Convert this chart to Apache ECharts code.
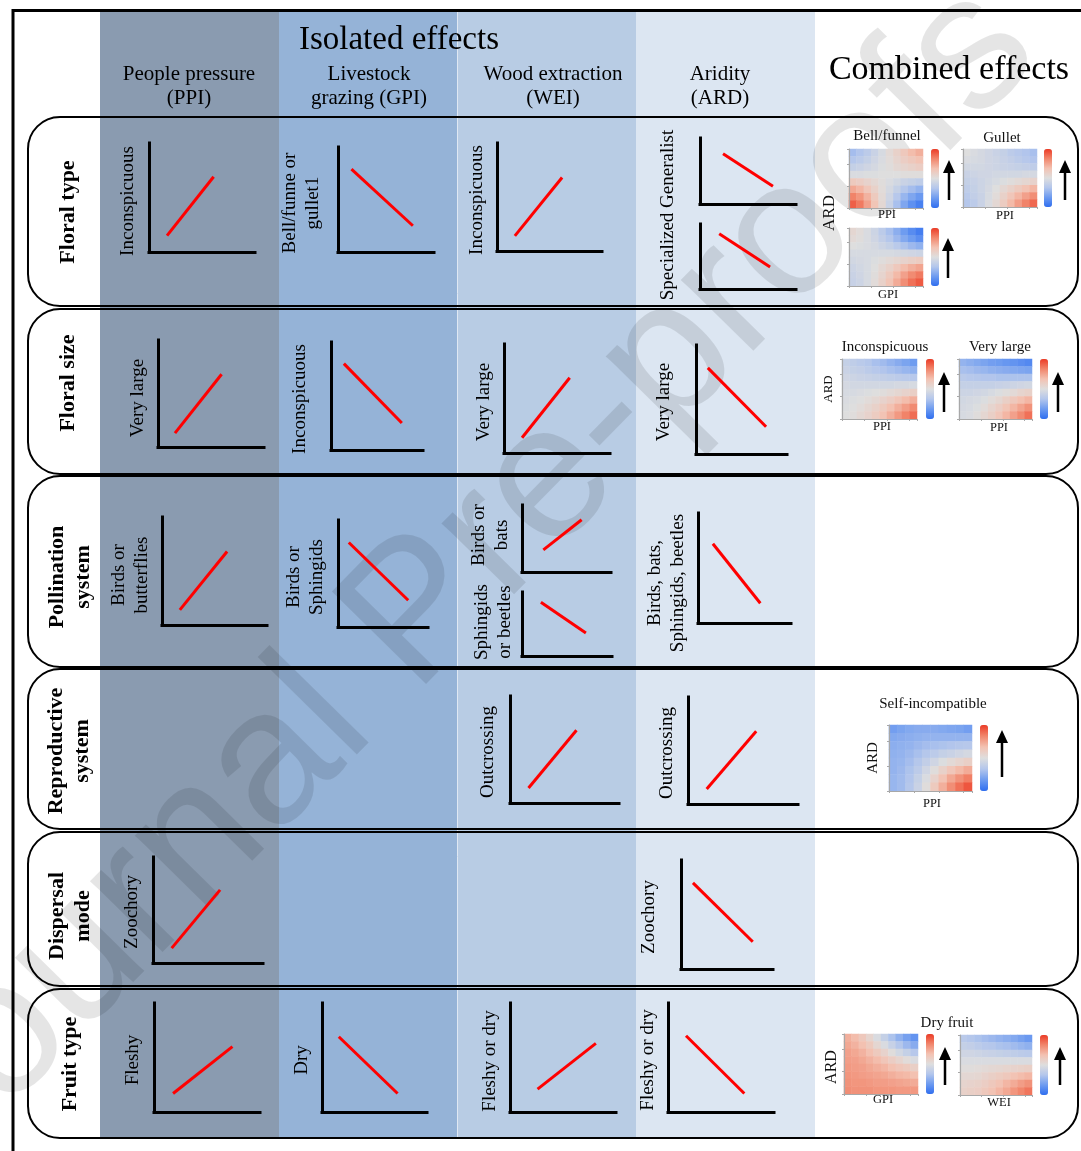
<!DOCTYPE html>
<html>
<head>
<meta charset="utf-8">
<script src="https://cdn.jsdelivr.net/npm/echarts@6/dist/echarts.min.js"></script>
<style>
  html, body { margin: 0; padding: 0; background: #ffffff; }
  #chart { width: 1081px; height: 1151px; }
</style>
</head>
<body>
<div id="chart"></div>
<script>
// ---- Traits (rows) and disturbance drivers (columns) ----
const traitRows = ['Floral type', 'Floral size', 'Pollination\nsystem', 'Reproductive\nsystem', 'Dispersal\nmode', 'Fruit type'];
const driverCols = ['People pressure\n(PPI)', 'Livestock\ngrazing (GPI)', 'Wood extraction\n(WEI)', 'Aridity\n(ARD)'];
const panelHeadings = ['Isolated effects', 'Combined effects'];

// ---- Isolated effects: trait-state label and fitted trend (start / end on a 0-10 scale) ----
const trendLabels = [
  'Inconspicuous', 'Bell/funne or\ngullet1', 'Inconspicuous', 'Specialized Generalist', '',
  'Very large', 'Inconspicuous', 'Very large', 'Very large',
  'Birds or\nbutterflies', 'Birds or\nSphingids', 'Birds or\nbats', 'Sphingids\nor beetles', 'Birds, bats,\nSphingids, beetles',
  'Outcrossing', 'Outcrossing',
  'Zoochory', 'Zoochory',
  'Fleshy', 'Dry', 'Fleshy or dry', 'Fleshy or dry'
];
const trendStart = [
  [1.7, 1.5], [1.4, 7.9], [1.7, 1.4], [2.4, 7.6], [2.0, 8.5],
  [1.6, 1.3], [1.4, 8.0], [1.7, 1.4], [1.3, 7.9],
  [1.7, 1.4], [1.2, 7.9], [2.4, 3.3], [2.1, 8.4], [1.6, 7.2],
  [1.7, 1.4], [1.7, 1.4],
  [1.7, 1.4], [1.3, 7.9],
  [1.8, 1.7], [1.6, 6.9], [2.6, 2.1], [1.7, 7.0]
];
const trendEnd = [
  [6.1, 6.9], [7.8, 2.5], [6.2, 6.8], [7.6, 2.7], [7.3, 3.4],
  [6.0, 6.8], [7.7, 2.5], [6.2, 6.9], [7.7, 2.5],
  [6.2, 6.8], [7.8, 2.5], [6.7, 7.8], [7.1, 3.6], [6.7, 1.8],
  [6.1, 6.8], [6.2, 6.8],
  [6.1, 6.9], [7.8, 2.5],
  [7.4, 6.0], [7.2, 1.7], [8.1, 6.3], [7.2, 1.7]
];

// ---- Combined effects: response surfaces (rows: high ARD at top, columns: low to high driver) ----
const surfaceTitles = ['Bell/funnel', 'Gullet', '', 'Inconspicuous', 'Very large', 'Self-incompatible', 'Dry fruit', ''];
const surfaceXNames = ['PPI', 'PPI', 'GPI', 'PPI', 'PPI', 'PPI', 'GPI', 'WEI'];
const surfaceBellFunnel = [
  [0.30, 0.33, 0.37, 0.42, 0.47, 0.53, 0.58, 0.63, 0.68, 0.72],
  [0.34, 0.37, 0.40, 0.44, 0.48, 0.52, 0.56, 0.60, 0.63, 0.66],
  [0.40, 0.42, 0.44, 0.46, 0.49, 0.51, 0.54, 0.56, 0.58, 0.60],
  [0.48, 0.48, 0.49, 0.49, 0.50, 0.50, 0.50, 0.51, 0.51, 0.51],
  [0.62, 0.60, 0.57, 0.54, 0.51, 0.48, 0.45, 0.42, 0.40, 0.38],
  [0.74, 0.70, 0.64, 0.58, 0.52, 0.46, 0.40, 0.34, 0.30, 0.26],
  [0.84, 0.79, 0.71, 0.62, 0.53, 0.44, 0.35, 0.27, 0.21, 0.16],
  [0.92, 0.86, 0.76, 0.65, 0.54, 0.42, 0.31, 0.21, 0.13, 0.07]
];
const surfaceGullet = [
  [0.50, 0.48, 0.46, 0.44, 0.42, 0.40, 0.37, 0.35, 0.33, 0.31],
  [0.48, 0.47, 0.46, 0.44, 0.43, 0.41, 0.39, 0.37, 0.35, 0.33],
  [0.45, 0.45, 0.45, 0.44, 0.43, 0.42, 0.41, 0.40, 0.39, 0.38],
  [0.42, 0.43, 0.44, 0.44, 0.45, 0.45, 0.45, 0.45, 0.46, 0.46],
  [0.40, 0.41, 0.43, 0.45, 0.47, 0.49, 0.51, 0.53, 0.55, 0.57],
  [0.38, 0.40, 0.43, 0.46, 0.50, 0.54, 0.58, 0.62, 0.66, 0.70],
  [0.36, 0.39, 0.42, 0.47, 0.52, 0.58, 0.64, 0.70, 0.76, 0.81],
  [0.34, 0.37, 0.42, 0.48, 0.54, 0.61, 0.69, 0.77, 0.84, 0.90]
];
const surfaceFloralGpi = [
  [0.55, 0.52, 0.48, 0.43, 0.37, 0.31, 0.24, 0.17, 0.11, 0.06],
  [0.53, 0.51, 0.48, 0.44, 0.39, 0.34, 0.28, 0.22, 0.17, 0.12],
  [0.50, 0.49, 0.48, 0.46, 0.43, 0.40, 0.36, 0.32, 0.28, 0.25],
  [0.47, 0.47, 0.47, 0.47, 0.47, 0.47, 0.46, 0.45, 0.44, 0.43],
  [0.45, 0.46, 0.47, 0.49, 0.51, 0.53, 0.55, 0.57, 0.59, 0.61],
  [0.43, 0.45, 0.47, 0.50, 0.54, 0.58, 0.63, 0.68, 0.72, 0.75],
  [0.42, 0.44, 0.47, 0.51, 0.56, 0.62, 0.69, 0.76, 0.82, 0.86],
  [0.41, 0.43, 0.47, 0.52, 0.58, 0.65, 0.73, 0.81, 0.88, 0.93]
];
const surfaceInconspicuous = [
  [0.40, 0.38, 0.36, 0.34, 0.31, 0.29, 0.26, 0.23, 0.20, 0.17],
  [0.42, 0.40, 0.39, 0.37, 0.35, 0.33, 0.31, 0.29, 0.27, 0.25],
  [0.44, 0.43, 0.42, 0.41, 0.40, 0.39, 0.38, 0.37, 0.36, 0.35],
  [0.46, 0.45, 0.45, 0.45, 0.45, 0.45, 0.45, 0.46, 0.46, 0.47],
  [0.47, 0.47, 0.48, 0.49, 0.50, 0.51, 0.53, 0.55, 0.57, 0.59],
  [0.48, 0.49, 0.50, 0.52, 0.54, 0.57, 0.60, 0.64, 0.68, 0.72],
  [0.49, 0.50, 0.52, 0.55, 0.58, 0.62, 0.67, 0.72, 0.77, 0.82],
  [0.50, 0.51, 0.54, 0.57, 0.61, 0.66, 0.72, 0.78, 0.84, 0.89]
];
const surfaceVeryLarge = [
  [0.26, 0.24, 0.22, 0.20, 0.18, 0.17, 0.15, 0.14, 0.12, 0.10],
  [0.31, 0.30, 0.28, 0.27, 0.25, 0.24, 0.23, 0.22, 0.21, 0.20],
  [0.36, 0.35, 0.34, 0.33, 0.33, 0.32, 0.32, 0.32, 0.32, 0.32],
  [0.40, 0.40, 0.40, 0.40, 0.40, 0.41, 0.42, 0.43, 0.44, 0.45],
  [0.43, 0.43, 0.44, 0.45, 0.47, 0.49, 0.51, 0.53, 0.56, 0.58],
  [0.45, 0.46, 0.47, 0.49, 0.52, 0.55, 0.59, 0.63, 0.67, 0.70],
  [0.46, 0.47, 0.49, 0.52, 0.56, 0.60, 0.65, 0.70, 0.75, 0.80],
  [0.47, 0.48, 0.51, 0.55, 0.59, 0.64, 0.70, 0.76, 0.82, 0.88]
];
const surfaceSelfIncompatible = [
  [0.18, 0.20, 0.22, 0.23, 0.23, 0.23, 0.22, 0.21, 0.20, 0.18],
  [0.22, 0.23, 0.24, 0.25, 0.26, 0.26, 0.26, 0.26, 0.26, 0.26],
  [0.24, 0.25, 0.26, 0.28, 0.30, 0.31, 0.32, 0.33, 0.34, 0.35],
  [0.25, 0.26, 0.28, 0.31, 0.34, 0.37, 0.40, 0.42, 0.44, 0.46],
  [0.26, 0.27, 0.30, 0.34, 0.39, 0.44, 0.49, 0.53, 0.56, 0.59],
  [0.26, 0.28, 0.32, 0.37, 0.44, 0.51, 0.58, 0.64, 0.69, 0.73],
  [0.27, 0.29, 0.33, 0.40, 0.48, 0.57, 0.66, 0.74, 0.80, 0.85],
  [0.27, 0.29, 0.34, 0.42, 0.51, 0.62, 0.72, 0.81, 0.88, 0.94]
];
const surfaceDryGpi = [
  [0.72, 0.68, 0.63, 0.56, 0.48, 0.40, 0.32, 0.25, 0.19, 0.14],
  [0.74, 0.71, 0.67, 0.62, 0.55, 0.48, 0.41, 0.34, 0.28, 0.23],
  [0.76, 0.74, 0.71, 0.67, 0.62, 0.57, 0.51, 0.45, 0.40, 0.35],
  [0.77, 0.76, 0.74, 0.71, 0.68, 0.64, 0.60, 0.56, 0.52, 0.48],
  [0.78, 0.77, 0.76, 0.74, 0.72, 0.70, 0.67, 0.64, 0.62, 0.59],
  [0.79, 0.78, 0.77, 0.76, 0.75, 0.74, 0.72, 0.70, 0.69, 0.67],
  [0.80, 0.79, 0.79, 0.78, 0.77, 0.77, 0.76, 0.75, 0.74, 0.73],
  [0.81, 0.80, 0.80, 0.80, 0.79, 0.79, 0.79, 0.78, 0.78, 0.78]
];
const surfaceDryWei = [
  [0.36, 0.34, 0.32, 0.30, 0.28, 0.26, 0.24, 0.22, 0.19, 0.16],
  [0.40, 0.39, 0.37, 0.35, 0.34, 0.32, 0.31, 0.29, 0.27, 0.25],
  [0.44, 0.44, 0.43, 0.42, 0.41, 0.40, 0.39, 0.38, 0.37, 0.36],
  [0.48, 0.48, 0.48, 0.48, 0.48, 0.48, 0.48, 0.48, 0.48, 0.48],
  [0.51, 0.51, 0.52, 0.53, 0.54, 0.55, 0.56, 0.57, 0.58, 0.59],
  [0.54, 0.54, 0.55, 0.57, 0.59, 0.61, 0.63, 0.66, 0.68, 0.70],
  [0.56, 0.57, 0.58, 0.60, 0.63, 0.66, 0.70, 0.73, 0.77, 0.80],
  [0.58, 0.59, 0.60, 0.63, 0.66, 0.70, 0.74, 0.79, 0.83, 0.87]
];
const surfaces = [surfaceBellFunnel, surfaceGullet, surfaceFloralGpi, surfaceInconspicuous,
                  surfaceVeryLarge, surfaceSelfIncompatible, surfaceDryGpi, surfaceDryWei];

// ---------------- layout (pixels) ----------------
const W = 1081, H = 1151;
const bandX = [100, 279, 458, 636, 815];
const bandColors = ['#8a9bb0', '#95b3d7', '#b8cce4', '#dce6f2'];
const bandTop = 12, bandBottom = 1138;
const rowBoxes = [[117, 306], [309, 474], [476, 667], [669, 829], [832, 986], [989, 1138]];
const rowLabelPos = [[68, 212], [68, 383], [70, 577], [69, 751], [70, 916], [70, 1064]];
const colHeadX = [189, 369, 553, 720];

// mini trend plots: [left, top, right, bottom] of the axis corner, label centre
const trendBoxes = [
  [149, 143, 255, 252], [338, 147, 434, 252], [497, 143, 602, 251], [700, 138, 796, 204], [700, 224, 796, 289],
  [158, 340, 264, 447], [331, 342, 423, 450], [504, 344, 610, 453], [696, 345, 787, 454],
  [162, 517, 267, 625], [338, 520, 428, 627], [522, 505, 611, 572], [522, 592, 612, 656], [698, 513, 791, 623],
  [510, 696, 619, 803], [688, 697, 798, 804],
  [153, 857, 263, 963], [681, 860, 773, 969],
  [154, 1003, 260, 1112], [322, 1003, 427, 1112], [510, 1003, 616, 1112], [668, 1003, 774, 1112]
];
const trendLabelPos = [
  [128, 201], [302, 203], [477, 200], [668, 215], [0, 0],
  [138, 398], [300, 399], [484, 402], [664, 402],
  [131, 575], [306, 577], [491, 535], [494, 622], [667, 583],
  [488, 752], [667, 753],
  [132, 912], [649, 917],
  [133, 1060], [302, 1060], [490, 1061], [648, 1060]
];

// combined-effect panels: surface box, colour bar x, arrow x + y range, title pos, x-name pos
const surfaceLayout = [
  { box: [849, 149, 923, 208], barX: 931, arrow: [949, 200, 160], title: [887, 136], xName: [887, 215] },
  { box: [963, 149, 1037, 207], barX: 1044, arrow: [1065, 200, 160], title: [1002, 138], xName: [1005, 216] },
  { box: [849, 228, 923, 286], barX: 931, arrow: [948, 278, 238], title: [0, 0], xName: [888, 295] },
  { box: [842, 359, 917, 419], barX: 926, arrow: [944, 412, 372], title: [885, 347], xName: [882, 427] },
  { box: [959, 359, 1032, 419], barX: 1040, arrow: [1058, 412, 372], title: [1000, 347], xName: [999, 428] },
  { box: [889, 725, 972, 791], barX: 980, arrow: [1002, 777, 730], title: [933, 704], xName: [932, 804] },
  { box: [844, 1034, 918, 1094], barX: 926, arrow: [945, 1085, 1047], title: [947, 1023], xName: [883, 1100] },
  { box: [960, 1035, 1032, 1095], barX: 1040, arrow: [1060, 1085, 1047], title: [0, 0], xName: [999, 1103] }
];
const ardLabels = [[830, 213, 17], [829, 389, 13], [873, 758, 15], [832, 1067, 16]];

const SERIF = '"Liberation Serif", "Times New Roman", serif';
const palette = ['#2f6ef0', '#6d9bf0', '#b3c6ec', '#dedede', '#f3c2b2', '#f1866c', '#ec3b26'];

// ---------------- build option ----------------
const grids = [], xAxes = [], yAxes = [], series = [], visualMaps = [], graphics = [];

// mini trend plots
trendBoxes.forEach((b, i) => {
  grids.push({ left: b[0], top: b[1], width: b[2] - b[0], height: b[3] - b[1] });
  const axisBase = {
    gridIndex: i, type: 'value', min: 0, max: 10, z: 6,
    axisLine: { show: true, onZero: false, lineStyle: { color: '#000', width: 3, cap: 'square' } },
    axisTick: { show: false }, axisLabel: { show: false }, splitLine: { show: false }
  };
  xAxes.push(Object.assign({ position: 'bottom' }, axisBase));
  yAxes.push(Object.assign({ position: 'left' }, axisBase));
  series.push({
    type: 'line', xAxisIndex: i, yAxisIndex: i, data: [trendStart[i], trendEnd[i]],
    symbol: 'none', silent: true, z: 7,
    lineStyle: { color: '#ff0000', width: 3 }
  });
});

// response surfaces with their colour bars
surfaces.forEach((mat, k) => {
  const L = surfaceLayout[k];
  const gi = grids.length;
  const nR = mat.length, nC = mat[0].length;
  grids.push({ left: L.box[0], top: L.box[1], width: L.box[2] - L.box[0], height: L.box[3] - L.box[1] });
  const catAxis = (n) => ({
    gridIndex: gi, type: 'category', data: Array.from({ length: n }, (_, j) => j), boundaryGap: true, z: 6,
    axisLine: { show: true, lineStyle: { color: '#a8a8a8', width: 1.2 } },
    axisTick: { show: true, interval: 2, length: 2, lineStyle: { color: '#a8a8a8' } },
    axisLabel: { show: false }, splitLine: { show: false }
  });
  xAxes.push(catAxis(nC));
  yAxes.push(catAxis(nR));
  const cells = [];
  mat.forEach((row, r) => row.forEach((v, c) => cells.push([c, nR - 1 - r, v])));
  series.push({
    type: 'heatmap', xAxisIndex: gi, yAxisIndex: gi, data: cells, silent: true, z: 4,
    itemStyle: { borderWidth: 0 }, emphasis: { disabled: true }
  });
  visualMaps.push({
    type: 'continuous', seriesIndex: series.length - 1, min: 0, max: 1,
    calculable: false, hoverLink: false, orient: 'vertical', padding: 0,
    left: L.barX, top: L.box[1], itemWidth: 8, itemHeight: L.box[3] - L.box[1],
    inRange: { color: palette }, textStyle: { fontSize: 1, color: 'rgba(0,0,0,0)' }
  });
  // upward arrow next to the colour bar
  const [ax, ay0, ay1] = L.arrow;
  graphics.push({ type: 'line', z: 8, shape: { x1: ax, y1: ay0, x2: ax, y2: ay1 + 8 }, style: { stroke: '#000', lineWidth: 2.5 } });
  graphics.push({ type: 'polygon', z: 8, shape: { points: [[ax - 6, ay1 + 13], [ax + 6, ay1 + 13], [ax, ay1]] }, style: { fill: '#000' } });
  if (surfaceTitles[k]) {
    graphics.push({ type: 'text', z: 8, x: L.title[0], y: L.title[1],
      style: { text: surfaceTitles[k], font: '15px ' + SERIF, fill: '#111', align: 'center', verticalAlign: 'middle' } });
  }
  graphics.push({ type: 'text', z: 8, x: L.xName[0], y: L.xName[1],
    style: { text: surfaceXNames[k], font: '12.5px ' + SERIF, fill: '#111', align: 'center', verticalAlign: 'middle' } });
});

// column bands
bandColors.forEach((c, i) => {
  graphics.push({ type: 'rect', z: 0, shape: { x: bandX[i], y: bandTop, width: bandX[i + 1] - bandX[i], height: bandBottom - bandTop }, style: { fill: c } });
});
graphics.push({ type: 'line', z: 0, shape: { x1: 457.5, y1: bandTop, x2: 457.5, y2: bandBottom }, style: { stroke: 'rgba(255,255,255,0.7)', lineWidth: 1 } });

// watermark
graphics.push({ type: 'text', z: 1, x: 452, y: 582, rotation: 45.5 * Math.PI / 180,
  style: { text: 'Journal Pre-proofs', font: '192px "Liberation Sans", Arial, sans-serif', fill: 'rgba(0,0,0,0.1)', align: 'center', verticalAlign: 'middle' } });

// outer frame
graphics.push({ type: 'line', z: 3, shape: { x1: 12, y1: 10.5, x2: W, y2: 10.5 }, style: { stroke: '#000', lineWidth: 3 } });
graphics.push({ type: 'line', z: 3, shape: { x1: 13, y1: 9, x2: 13, y2: H }, style: { stroke: '#000', lineWidth: 3 } });

// row boxes and row labels
rowBoxes.forEach((r, i) => {
  graphics.push({ type: 'rect', z: 3, shape: { x: 28, y: r[0], width: 1050, height: r[1] - r[0], r: 32 },
    style: { fill: 'none', stroke: '#000', lineWidth: 2 } });
  graphics.push({ type: 'text', z: 8, x: rowLabelPos[i][0], y: rowLabelPos[i][1], rotation: Math.PI / 2,
    style: { text: traitRows[i], font: 'bold 22px ' + SERIF, fill: '#000', align: 'center', verticalAlign: 'middle', lineHeight: 26 } });
});

// headings
graphics.push({ type: 'text', z: 8, x: 399, y: 40, style: { text: panelHeadings[0], font: '33px ' + SERIF, fill: '#000', align: 'center', verticalAlign: 'middle' } });
graphics.push({ type: 'text', z: 8, x: 949, y: 70, style: { text: panelHeadings[1], font: '34px ' + SERIF, fill: '#000', align: 'center', verticalAlign: 'middle' } });
driverCols.forEach((t, i) => {
  graphics.push({ type: 'text', z: 8, x: colHeadX[i], y: 86,
    style: { text: t, font: '21px ' + SERIF, fill: '#000', align: 'center', verticalAlign: 'middle', lineHeight: 24 } });
});

// trait-state labels beside each trend plot
trendLabels.forEach((t, i) => {
  if (!t) return;
  graphics.push({ type: 'text', z: 8, x: trendLabelPos[i][0], y: trendLabelPos[i][1], rotation: Math.PI / 2,
    style: { text: t, font: '19px ' + SERIF, fill: '#000', align: 'center', verticalAlign: 'middle', lineHeight: 23 } });
});

// ARD axis names for the surfaces
ardLabels.forEach(a => {
  graphics.push({ type: 'text', z: 8, x: a[0], y: a[1], rotation: Math.PI / 2,
    style: { text: 'ARD', font: a[2] + 'px ' + SERIF, fill: '#111', align: 'center', verticalAlign: 'middle' } });
});

const chart = echarts.init(document.getElementById('chart'), null, { renderer: 'canvas', width: W, height: H });
chart.setOption({
  animation: false,
  backgroundColor: '#ffffff',
  grid: grids,
  xAxis: xAxes,
  yAxis: yAxes,
  visualMap: visualMaps,
  series: series,
  graphic: { elements: graphics }
});
</script>
</body>
</html>
